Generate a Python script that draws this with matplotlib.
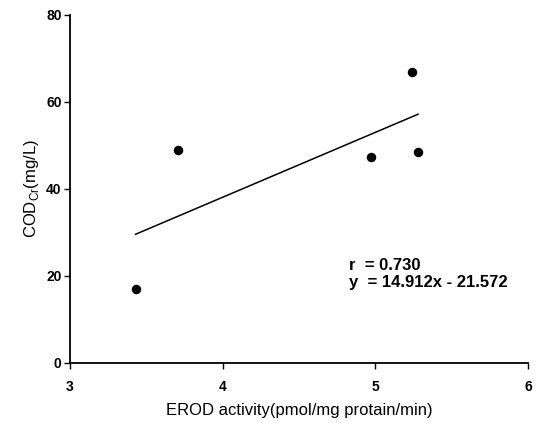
import matplotlib.pyplot as plt
import numpy as np

# donnees
erod = [3.43, 3.71, 4.97, 5.24, 5.28]
cod = [17.0, 49.0, 47.4, 66.9, 48.5]
slope = 14.912
intercept = -21.572
r_txt = "r  = 0.730"
eq_txt = "y  = 14.912x - 21.572"

plt.rcParams['font.family'] = ['Liberation Sans', 'DejaVu Sans']

fig = plt.figure(figsize=(5.42, 4.25), dpi=100)
ax = fig.add_axes([0.129, 0.146, 0.845, 0.819])

ax.scatter(erod, cod, s=34, c='black', zorder=3)

# droite de regression
xl = np.array([min(erod), max(erod)])
ax.plot(xl, slope * xl + intercept, color='black', lw=1.1)

ax.set_xlim(3, 6)
ax.set_ylim(0, 80)
ax.set_xticks([3, 4, 5, 6])
ax.set_yticks([0, 20, 40, 60, 80])

for s in ['top', 'right']:
    ax.spines[s].set_visible(False)
for s in ['left', 'bottom']:
    ax.spines[s].set_linewidth(1.3)

ax.tick_params(axis='x', direction='out', length=4, width=1, pad=8, labelsize=10)
ax.tick_params(axis='y', direction='out', length=4, width=1, pad=2, labelsize=10)
for lab in ax.get_xticklabels() + ax.get_yticklabels():
    lab.set_fontweight('bold')

ax.set_xlabel('EROD activity(pmol/mg protain/min)', fontsize=12, labelpad=7)
ax.set_ylabel(r'COD$_{\mathregular{Cr}}$(mg/L)', fontsize=12, labelpad=4)

ax.text(4.83, 22.3, r_txt, fontsize=12, fontweight='bold', va='center')
ax.text(4.83, 18.6, eq_txt, fontsize=12, fontweight='bold', va='center')

plt.savefig('out.png', dpi=100)
